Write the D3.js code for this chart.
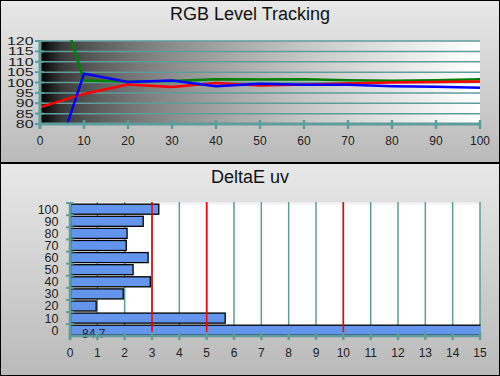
<!DOCTYPE html>
<html><head><meta charset="utf-8">
<script src="https://cdn.jsdelivr.net/npm/d3@7"></script>
<style>
html,body{margin:0;padding:0;background:#fff;}
svg{display:block;font-family:"Liberation Sans",Arial,sans-serif;}
</style></head>
<body>
<svg id="c" width="500" height="376"></svg>
<script>
// ---- data ----
const levels = [0,10,20,30,40,50,60,70,80,90,100];
const redLevel   = [88, 94.5, 99, 97.8, 99.7, 98.6, 99, 99.5, 100, 100.2, 100.5];
const greenLevel = [169, 101, 100.5, 100.7, 101.6, 101.4, 101.6, 101.1, 100.8, 101.1, 101.6];
const blueLevel  = [40, 104.3, 100.3, 101, 98.2, 99.4, 98.9, 98.9, 98.2, 97.9, 97.5];
const yTicksTop = [80,85,90,95,100,105,110,115,120];
const xTicksTop = [0,10,20,30,40,50,60,70,80,90,100];

const deCats = ["100","90","80","70","60","50","40","30","20","10","0"];
const deValues = [3.23, 2.66, 2.07, 2.04, 2.84, 2.29, 2.92, 1.93, 0.94, 5.66, 84.7];
const deTicks = d3.range(0,16);
const deLimits = [3,5,10];

const teal = "#5f9d9d";
const svg = d3.select("#c");
const defs = svg.append("defs");

// panel gradients
const pg = defs.append("linearGradient").attr("id","panelG").attr("x1",0).attr("y1",0).attr("x2",0).attr("y2",1);
pg.append("stop").attr("offset","0%").attr("stop-color","#e8e8e8");
pg.append("stop").attr("offset","100%").attr("stop-color","#bababa");
// plot gradient (black->white, gamma)
const lg = defs.append("linearGradient").attr("id","lumG").attr("x1",0).attr("y1",0).attr("x2",1).attr("y2",0);
d3.range(0,1.0001,0.05).forEach(t=>{
  const v = Math.round(255*Math.pow(t,0.5));
  lg.append("stop").attr("offset",(t*100)+"%").attr("stop-color",d3.rgb(v,v,v));
});
const wg = defs.append("linearGradient").attr("id","whiteG").attr("x1",0).attr("y1",0).attr("x2",0).attr("y2",1);
wg.append("stop").attr("offset","0%").attr("stop-color","#ececec");
wg.append("stop").attr("offset","3%").attr("stop-color","#ffffff");
wg.append("stop").attr("offset","100%").attr("stop-color","#ffffff");

// panels
svg.append("rect").attr("x",0.5).attr("y",0.5).attr("width",499).attr("height",162).attr("fill","url(#panelG)");
svg.append("rect").attr("x",0.5).attr("y",163.5).attr("width",499).attr("height",212).attr("fill","url(#panelG)");
svg.append("rect").attr("x",0.5).attr("y",0.5).attr("width",499).attr("height",375).attr("fill","none").attr("stroke","#000").attr("stroke-width",1);
svg.append("line").attr("x1",0).attr("x2",500).attr("y1",163).attr("y2",163).attr("stroke","#000").attr("stroke-width",2);

// titles
svg.append("text").attr("x",250).attr("y",20).attr("text-anchor","middle").attr("font-size",18).attr("fill","#111").text("RGB Level Tracking");
svg.append("text").attr("x",250).attr("y",182.5).attr("text-anchor","middle").attr("font-size",18).attr("fill","#111").text("DeltaE uv");

// ---- top chart ----
const x1 = d3.scaleLinear().domain([0,100]).range([40,480]);
const y1 = d3.scaleLinear().domain([80,120]).range([124,41]);
svg.append("rect").attr("x",x1(0)).attr("y",y1(120)).attr("width",x1(100)-x1(0)).attr("height",y1(80)-y1(120)).attr("fill","url(#lumG)");
defs.append("clipPath").attr("id","clipTop").append("rect")
  .attr("x",x1(0)).attr("y",y1(120)-1).attr("width",x1(100)-x1(0)).attr("height",y1(80)-y1(120)+1);

const gTop = svg.append("g");
gTop.selectAll("line.hg").data(yTicksTop).join("line").attr("class","hg")
  .attr("x1",x1(0)).attr("x2",x1(100)).attr("y1",d=>y1(d)).attr("y2",d=>y1(d))
  .attr("stroke",teal).attr("stroke-width",1.5);

const line1 = d3.line().x((d,i)=>x1(levels[i])).y(d=>y1(d));
const gLines = svg.append("g").attr("clip-path","url(#clipTop)");
[[greenLevel,"#008000"],[redLevel,"#ff0000"],[blueLevel,"#0000ff"]].forEach(([arr,col])=>{
  gLines.append("path").datum(arr).attr("d",line1).attr("fill","none").attr("stroke",col).attr("stroke-width",2.5).attr("stroke-linejoin","miter");
});

// axes top
const axYTop = d3.axisLeft(y1).tickValues(yTicksTop).tickSize(0).tickPadding(0);
const gy1 = svg.append("g").attr("transform",`translate(${x1(0)},0)`).call(axYTop);
gy1.select(".domain").remove();
gy1.selectAll(".tick text").remove();
svg.append("line").attr("x1",x1(0)).attr("x2",x1(0)).attr("y1",y1(120)-1).attr("y2",y1(80)+5).attr("stroke",teal).attr("stroke-width",3);
svg.selectAll("line.yt1").data(yTicksTop).join("line").attr("class","yt1")
  .attr("x1",35).attr("x2",44).attr("y1",d=>y1(d)).attr("y2",d=>y1(d)).attr("stroke",teal).attr("stroke-width",2);
svg.selectAll("text.yl1").data(yTicksTop).join("text").attr("class","yl1")
  .attr("transform",d=>`translate(33.5,${y1(d)+4}) scale(1.45,1)`)
  .attr("text-anchor","end").attr("font-size",11).attr("fill","#222").text(d=>d);

svg.append("line").attr("x1",x1(0)).attr("x2",x1(100)).attr("y1",y1(80)).attr("y2",y1(80)).attr("stroke",teal).attr("stroke-width",3);
const axXTop = d3.axisBottom(x1).tickValues(xTicksTop).tickSize(0).tickPadding(0);
const gx1 = svg.append("g").attr("transform",`translate(0,${y1(80)})`).call(axXTop);
gx1.select(".domain").remove(); gx1.selectAll(".tick text").remove();
svg.selectAll("line.xt1").data(xTicksTop).join("line").attr("class","xt1")
  .attr("x1",d=>x1(d)).attr("x2",d=>x1(d)).attr("y1",y1(80)-4).attr("y2",y1(80)+5).attr("stroke",teal).attr("stroke-width",2.5);
svg.selectAll("text.xl1").data(xTicksTop).join("text").attr("class","xl1")
  .attr("x",d=>x1(d)).attr("y",144.5).attr("text-anchor","middle").attr("font-size",12).attr("fill","#222").text(d=>d);

// ---- bottom chart ----
const x2 = d3.scaleLinear().domain([0,15]).range([70,480]);
const y2 = d3.scaleBand().domain(deCats).range([203,336]).paddingInner(0.17).paddingOuter(0.08).align(0.6);
const plotTop = 202, plotBot = 336;
svg.append("rect").attr("x",x2(0)).attr("y",plotTop).attr("width",x2(15)-x2(0)).attr("height",plotBot-plotTop).attr("fill","url(#whiteG)");
svg.selectAll("line.vg").data(deTicks.slice(1)).join("line").attr("class","vg")
  .attr("x1",d=>x2(d)).attr("x2",d=>x2(d)).attr("y1",plotTop).attr("y2",plotBot)
  .attr("stroke",teal).attr("stroke-width",1.5);

defs.append("clipPath").attr("id","clipBot").append("rect")
  .attr("x",x2(0)).attr("y",plotTop).attr("width",x2(15)-x2(0)+0.5).attr("height",plotBot-plotTop+1);
const gBars = svg.append("g").attr("clip-path","url(#clipBot)");
gBars.selectAll("rect.bar").data(deValues).join("rect").attr("class","bar")
  .attr("x",x2(0)+0.5).attr("y",(d,i)=>y2(deCats[i]))
  .attr("width",d=>x2(Math.min(d,15.2))-x2(0)).attr("height",y2.bandwidth())
  .attr("fill","#6495ed").attr("stroke","#000").attr("stroke-width",1.3);

svg.selectAll("line.lim").data(deLimits).join("line").attr("class","lim")
  .attr("x1",d=>x2(d)).attr("x2",d=>x2(d)).attr("y1",plotTop).attr("y2",plotBot+1)
  .attr("stroke","#ff0000").attr("stroke-width",1.6);

// value label for off-scale bar
svg.append("text").attr("x",82).attr("y",337.5).attr("font-size",12).attr("fill","#222").text(deValues[deValues.length-1]);

// axes bottom
const axY2 = d3.axisLeft(y2).tickSize(0);
const gy2 = svg.append("g").attr("transform",`translate(${x2(0)},0)`).call(axY2);
gy2.select(".domain").remove(); gy2.selectAll(".tick text").remove();
svg.append("line").attr("x1",x2(0)).attr("x2",x2(0)).attr("y1",plotTop).attr("y2",plotBot+4).attr("stroke",teal).attr("stroke-width",2.5);
const bounds = deCats.map(c=>y2(c)-y2.step()*y2.paddingInner()/2);
svg.selectAll("line.yt2").data(bounds).join("line").attr("class","yt2")
  .attr("x1",66).attr("x2",74).attr("y1",d=>d).attr("y2",d=>d).attr("stroke",teal).attr("stroke-width",2);
svg.selectAll("text.yl2").data(deCats).join("text").attr("class","yl2")
  .attr("x",58.5).attr("y",d=>y2(d)+y2.bandwidth()/2+4.5).attr("text-anchor","end")
  .attr("font-size",12.5).attr("fill","#222").text(d=>d);

svg.append("line").attr("x1",x2(0)).attr("x2",x2(15)).attr("y1",plotBot).attr("y2",plotBot).attr("stroke",teal).attr("stroke-width",2.5);
svg.selectAll("line.xt2").data(deTicks).join("line").attr("class","xt2")
  .attr("x1",d=>x2(d)).attr("x2",d=>x2(d)).attr("y1",plotBot-4).attr("y2",plotBot+4).attr("stroke",teal).attr("stroke-width",2.5);
svg.selectAll("text.xl2").data(deTicks).join("text").attr("class","xl2")
  .attr("x",d=>x2(d)).attr("y",356.5).attr("text-anchor","middle").attr("font-size",12).attr("fill","#222").text(d=>d);
</script>
</body></html>
